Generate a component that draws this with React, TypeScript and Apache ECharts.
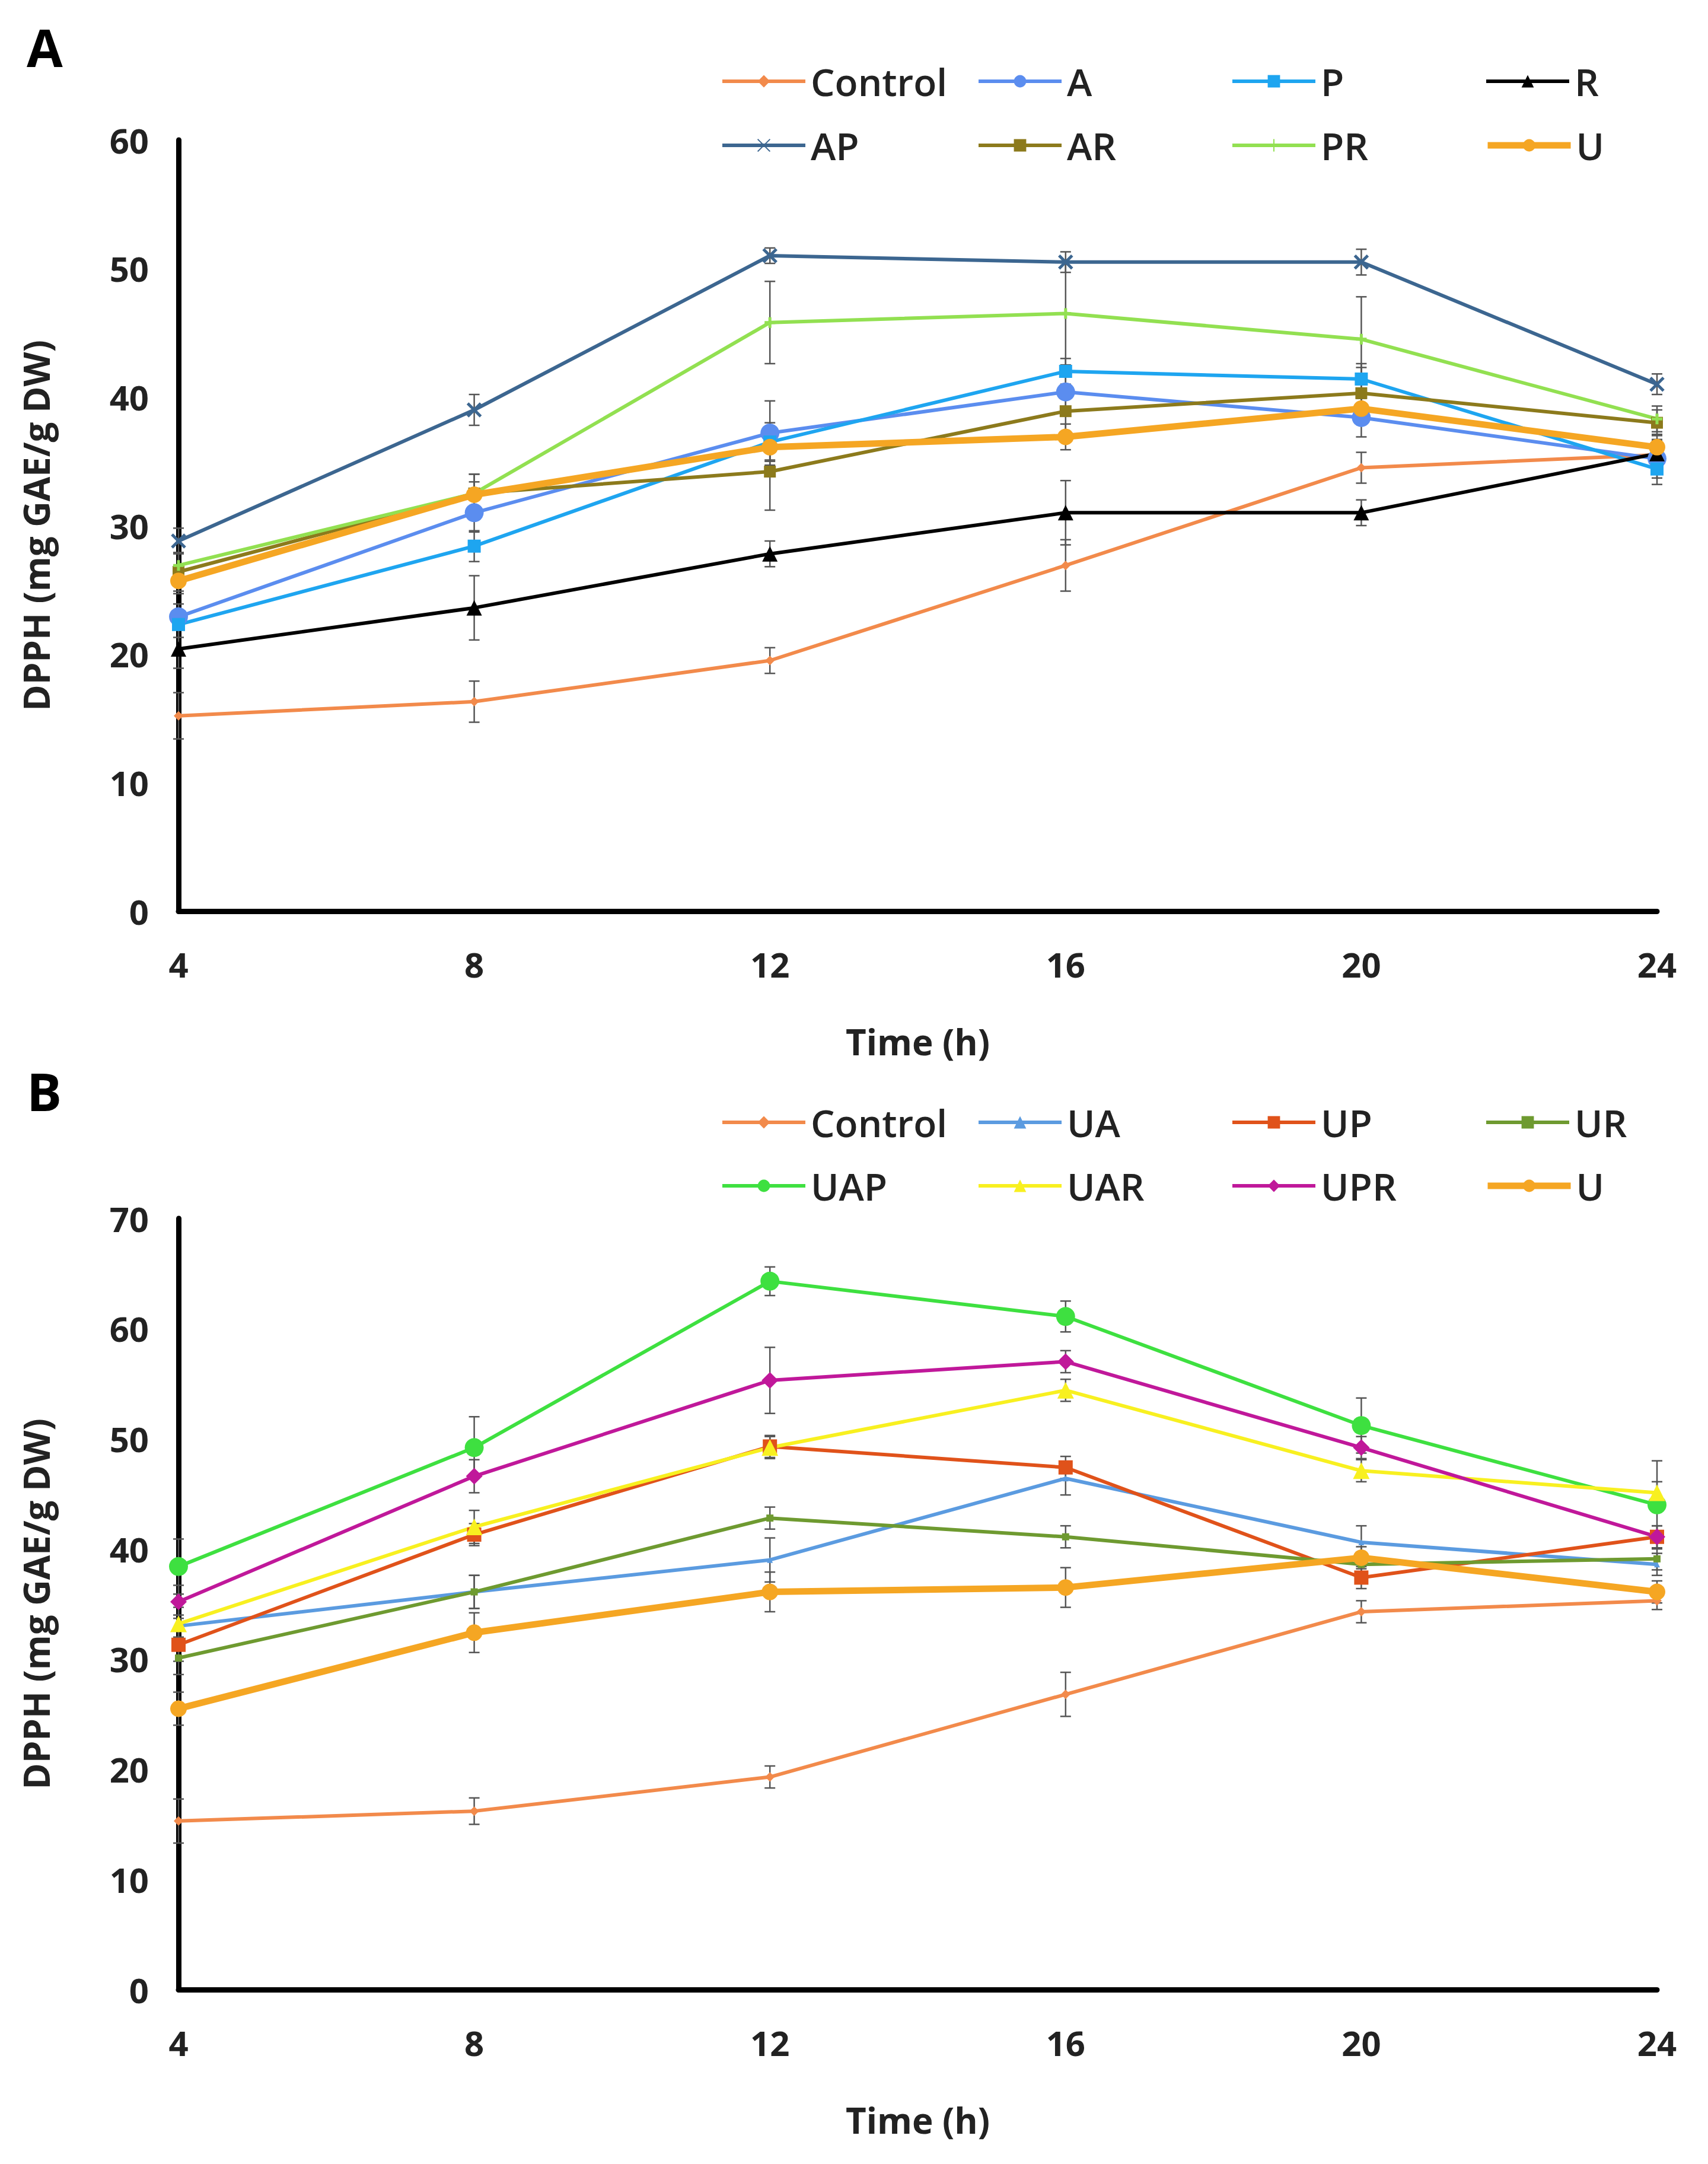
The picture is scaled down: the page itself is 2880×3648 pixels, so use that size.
import React, { useEffect, useRef } from 'react';
import * as echarts from 'echarts';

const times = [4, 8, 12, 16, 20, 24];

// Panel A
const controlVals = [15.2, 16.3, 19.5, 26.9, 34.5, 35.5];
const controlErr = [1.8, 1.6, 1.0, 2.0, 1.2, 1.0];
const aVals = [22.9, 31.0, 37.2, 40.4, 38.4, 35.2];
const aErr = [1.0, 1.5, 2.5, 1.5, 1.5, 1.5];
const pVals = [22.3, 28.4, 36.5, 42.0, 41.4, 34.4];
const pErr = [1.0, 1.2, 1.5, 1.0, 1.2, 1.2];
const rVals = [20.4, 23.6, 27.8, 31.0, 31.0, 35.6];
const rErr = [1.5, 2.5, 1.0, 2.5, 1.0, 1.0];
const apVals = [28.8, 39.0, 51.0, 50.5, 50.5, 41.0];
const apErr = [1.0, 1.2, 0.6, 0.8, 1.0, 0.8];
const arVals = [26.4, 32.5, 34.2, 38.9, 40.3, 38.0];
const arErr = [1.5, 1.5, 3.0, 2.0, 2.0, 1.0];
const prVals = [26.9, 32.5, 45.8, 46.5, 44.5, 38.3];
const prErr = [1.0, 1.5, 3.2, 4.0, 3.3, 1.0];
const uVals = [25.7, 32.4, 36.1, 36.9, 39.1, 36.1];
const uErr = [1.0, 1.0, 1.0, 1.0, 1.0, 1.0];

// Panel B
const ctrlBVals = [15.3, 16.2, 19.3, 26.8, 34.3, 35.3];
const ctrlBErr = [2.0, 1.2, 1.0, 2.0, 1.0, 0.8];
const uaVals = [33.0, 36.1, 39.0, 46.4, 40.6, 38.6];
const uaErr = [1.0, 1.5, 2.0, 1.5, 1.5, 1.0];
const upVals = [31.3, 41.3, 49.3, 47.4, 37.4, 41.1];
const upErr = [1.5, 1.0, 1.0, 1.0, 1.0, 1.0];
const urVals = [30.1, 36.1, 42.8, 41.1, 38.6, 39.1];
const urErr = [1.5, 1.5, 1.0, 1.0, 1.0, 1.0];
const uapVals = [38.4, 49.2, 64.3, 61.1, 51.2, 44.0];
const uapErr = [2.5, 2.8, 1.3, 1.4, 2.5, 4.0];
const uarVals = [33.2, 42.0, 49.2, 54.4, 47.1, 45.1];
const uarErr = [1.5, 1.5, 1.0, 1.0, 1.0, 1.0];
const uprVals = [35.2, 46.6, 55.3, 57.0, 49.2, 41.1];
const uprErr = [1.5, 1.5, 3.0, 1.0, 1.0, 1.0];
const uBVals = [25.5, 32.4, 36.1, 36.5, 39.2, 36.1];
const uBErr = [1.5, 1.8, 1.8, 1.8, 1.0, 1.0];

const font = 'Open Sans';
const cross = 'path://M0,0L10,10M10,0L0,10';
const plus = 'path://M5,0L5,10M0,5L10,5';

type S = { name: string; vals: number[]; err: number[]; color: string; symbol: string; size: number; width?: number };

const seriesA: S[] = [
  { name: 'Control', vals: controlVals, err: controlErr, color: '#F28A4B', symbol: 'diamond', size: 16 },
  { name: 'A', vals: aVals, err: aErr, color: '#5B8DEF', symbol: 'circle', size: 32 },
  { name: 'P', vals: pVals, err: pErr, color: '#1EA5F0', symbol: 'rect', size: 22 },
  { name: 'R', vals: rVals, err: rErr, color: '#000000', symbol: 'triangle', size: 26 },
  { name: 'AP', vals: apVals, err: apErr, color: '#3C6690', symbol: cross, size: 22 },
  { name: 'AR', vals: arVals, err: arErr, color: '#8C7A1C', symbol: 'rect', size: 20 },
  { name: 'PR', vals: prVals, err: prErr, color: '#92E051', symbol: plus, size: 18 },
  { name: 'U', vals: uVals, err: uErr, color: '#F5A623', symbol: 'circle', size: 28, width: 11 },
];
const seriesB: S[] = [
  { name: 'Control', vals: ctrlBVals, err: ctrlBErr, color: '#F28A4B', symbol: 'diamond', size: 16 },
  { name: 'UA', vals: uaVals, err: uaErr, color: '#5B9BE0', symbol: 'triangle', size: 10 },
  { name: 'UP', vals: upVals, err: upErr, color: '#E0521A', symbol: 'rect', size: 24 },
  { name: 'UR', vals: urVals, err: urErr, color: '#6E9A30', symbol: 'rect', size: 12 },
  { name: 'UAP', vals: uapVals, err: uapErr, color: '#3EE040', symbol: 'circle', size: 32 },
  { name: 'UAR', vals: uarVals, err: uarErr, color: '#F8F020', symbol: 'triangle', size: 28 },
  { name: 'UPR', vals: uprVals, err: uprErr, color: '#C0189A', symbol: 'diamond', size: 28 },
  { name: 'U', vals: uBVals, err: uBErr, color: '#F5A623', symbol: 'circle', size: 28, width: 11 },
];

const legendXs = [1210, 1642, 2070, 2498];

const App = () => {
  const ref = useRef<HTMLDivElement>(null);
  useEffect(() => {
    document.body.style.margin = '0';
    if (!ref.current) return;
    const chart = echarts.init(ref.current, null, { renderer: 'svg' });

    const build = (list: S[], idx: number) => {
      const out: any[] = [];
      list.forEach((s) => {
        const isCross = s.symbol.startsWith('path');
        out.push({
          name: s.name, type: 'line', xAxisIndex: idx, yAxisIndex: idx,
          data: times.map((t, i) => [t, s.vals[i]]),
          symbol: s.symbol, symbolSize: s.size,
          lineStyle: { color: s.color, width: s.width ?? 6 },
          itemStyle: isCross ? { color: 'none', borderColor: s.color, borderWidth: 5 } : { color: s.color },
          z: 3,
        });
        out.push({
          name: s.name, type: 'custom', xAxisIndex: idx, yAxisIndex: idx,
          data: times.map((t, i) => [t, s.vals[i] - s.err[i], s.vals[i] + s.err[i]]),
          renderItem: (p: any, api: any) => {
            const lo = api.coord([api.value(0), api.value(1)]);
            const hi = api.coord([api.value(0), api.value(2)]);
            const st = { stroke: '#555', lineWidth: 2.5 };
            return {
              type: 'group', children: [
                { type: 'line', shape: { x1: lo[0], y1: lo[1], x2: hi[0], y2: hi[1] }, style: st },
                { type: 'line', shape: { x1: lo[0] - 9, y1: lo[1], x2: lo[0] + 9, y2: lo[1] }, style: st },
                { type: 'line', shape: { x1: hi[0] - 9, y1: hi[1], x2: hi[0] + 9, y2: hi[1] }, style: st },
              ],
            };
          },
          z: 2,
        });
      });
      return out;
    };

    const legends = (list: S[], tops: number[]) =>
      list.map((s, i) => ({
        left: legendXs[i % 4], top: tops[Math.floor(i / 4)],
        data: [{ name: s.name }], itemWidth: 140, itemHeight: 26, itemGap: 0,
        selectedMode: false,
        lineStyle: { width: s.width ?? 6 },
        textStyle: { fontFamily: font, fontSize: 64, fontWeight: 600, color: '#222', padding: [0, 0, 0, 4] },
      }));

    const axisLabel = { fontFamily: font, fontSize: 58, fontWeight: 700, color: '#222', margin: 60 };
    const nameStyle = { fontFamily: font, fontSize: 60, fontWeight: 700, color: '#222' };
    const axisLine = { show: true, lineStyle: { color: '#000', width: 9 } };

    const xAxis = (gi: number) => ({
      type: 'value', gridIndex: gi, min: 4, max: 24, interval: 4,
      name: 'Time (h)', nameLocation: 'middle', nameGap: 190, nameTextStyle: nameStyle,
      axisLine, axisTick: { show: false }, splitLine: { show: false }, axisLabel,
    });
    const yAxis = (gi: number, max: number) => ({
      type: 'value', gridIndex: gi, min: 0, max, interval: 10,
      name: 'DPPH (mg GAE/g DW)', nameLocation: 'middle', nameGap: 210, nameTextStyle: nameStyle,
      axisLine, axisTick: { show: false }, splitLine: { show: false },
      axisLabel: { ...axisLabel, margin: 50 },
    });

    chart.setOption({
      animation: false,
      backgroundColor: '#fff',
      title: [
        { text: 'A', left: 40, top: 30, textStyle: { fontFamily: font, fontSize: 88, fontWeight: 700, color: '#000' } },
        { text: 'B', left: 40, top: 1790, textStyle: { fontFamily: font, fontSize: 88, fontWeight: 700, color: '#000' } },
      ],
      legend: [...legends(seriesA, [100, 208]), ...legends(seriesB, [1855, 1962])],
      grid: [
        { left: 301, right: 86, top: 236, height: 1300 },
        { left: 301, right: 86, top: 2054, height: 1300 },
      ],
      xAxis: [xAxis(0), xAxis(1)],
      yAxis: [yAxis(0, 60), yAxis(1, 70)],
      series: [...build(seriesA, 0), ...build(seriesB, 1)],
    });
    return () => chart.dispose();
  }, []);
  return <div ref={ref} style={{ width: '2880px', height: '3648px' }} />;
};

export default App;
